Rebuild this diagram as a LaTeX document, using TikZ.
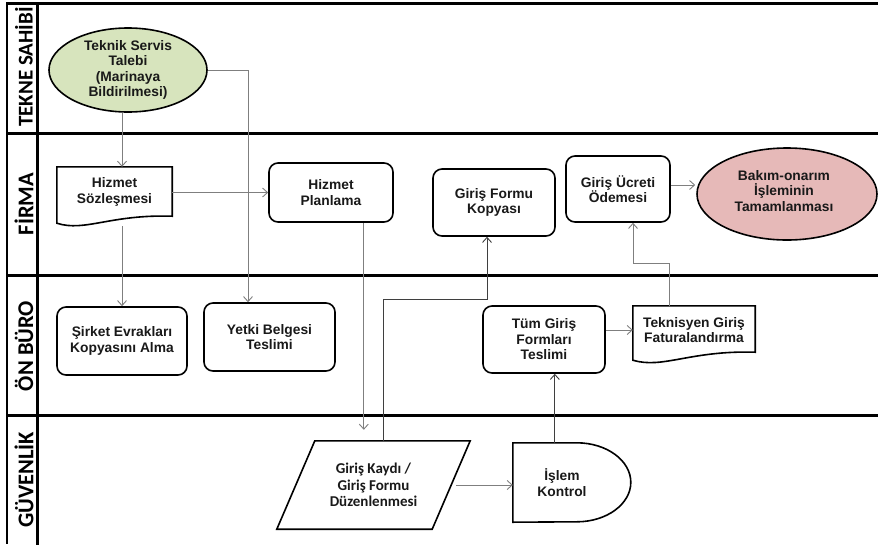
\documentclass[tikz,border=0pt]{standalone}
\usepackage{fontspec}
\setmainfont{Liberation Sans}
\newfontfamily\calfont{Carlito}
\usetikzlibrary{arrows.meta,calc,shapes.geometric}

\definecolor{talepgreen}{HTML}{D7E4BD}
\definecolor{bitispink}{HTML}{E6B9B8}
\definecolor{conngray}{HTML}{7F7F7F}
\definecolor{conndark}{HTML}{3F3F3F}

\tikzset{
  lane/.style={line width=3pt, black, line cap=rect},
  lanethin/.style={line width=1.8pt, black},
  lanelabel/.style={rotate=90, inner sep=0pt,
    font=\calfont\bfseries\fontsize{22.5}{24}\selectfont},
  txt/.style={align=center, inner sep=0pt, text=black!90,
    font=\bfseries\fontsize{13.8}{15.5}\selectfont},
  caltxt/.style={align=center, inner sep=0pt, text=black!90,
    font=\calfont\bfseries\fontsize{15}{16.5}\selectfont},
  shapeline/.style={draw=black, line width=1.6pt},
  procbox/.style={txt, shapeline, fill=white, rounded corners=9pt},
  terminal/.style={ellipse, shapeline, inner sep=0pt},
  arr/.style={draw=conngray, line width=0.9pt,
    -{Straight Barb[length=5pt,width=9pt]}},
  arrd/.style={arr, draw=conndark},
}

\begin{document}
\begin{tikzpicture}[x=1pt, y=-1pt]
\useasboundingbox (0,0) rectangle (878,544);

% swimlane frame
\draw[lanethin] (7,3) -- (7,544);
\draw[lane] (37,3) -- (37,544);
\foreach \yy in {3,133,275,415}
  \draw[lane] (7,\yy) -- (880,\yy);

% lane titles
\node[lanelabel, font=\calfont\bfseries\fontsize{21}{24}\selectfont] (l1) at (24,67) {TEKNE SAHİBİ};
\node[lanelabel] (l2) at (24,204) {FİRMA};
\node[lanelabel] (l3) at (24,346) {ÖN BÜRO};
\node[lanelabel] (l4) at (24,480) {GÜVENLİK};

% TEKNE SAHIBI
\node[terminal, fill=talepgreen, minimum width=158pt, minimum height=84pt] (talep) at (128,70) {};
\node[txt] (talept) at (talep) {Teknik Servis\\Talebi\\(Marinaya\\Bildirilmesi)};

% FIRMA
\node[txt, minimum width=115pt, minimum height=50pt] (soz) at (114.5,192) {Hizmet\\Sözleşmesi};
\draw[shapeline] (soz.north west) -- (soz.north east) -- ($(soz.south east)+(0,-1)$)
  .. controls ($(soz.south east)+(-62,-3)$) and ($(soz.south west)+(28,15)$) ..
  ($(soz.south west)+(0,6)$) -- cycle;

\node[procbox, minimum width=124pt, minimum height=59pt] (plan) at (331,192.5) {Hizmet\\Planlama};
\node[procbox, minimum width=122pt, minimum height=67pt] (kopya) at (494,202.5) {Giriş Formu\\Kopyası};
\node[procbox, minimum width=104pt, minimum height=66pt] (ucret) at (618,189) {Giriş Ücreti\\Ödemesi};

\node[terminal, fill=bitispink, minimum width=180pt, minimum height=92pt] (bakim) at (787,194) {};
\node[txt] (bakimt) at ($(bakim)+(-3,-3)$) {Bakım-onarım\\İşleminin\\Tamamlanması};

% ON BURO
\node[procbox, minimum width=130pt, minimum height=68pt] (sirket) at (122,341) {Şirket Evrakları\\Kopyasını Alma};
\node[procbox, minimum width=131pt, minimum height=68pt] (yetki) at (269.5,337) {Yetki Belgesi\\Teslimi};
\node[procbox, minimum width=122pt, minimum height=67pt] (tum) at (544,339.5) {Tüm Giriş\\Formları\\Teslimi};

\node[txt, minimum width=122pt, minimum height=48pt] (fatura) at (694,330) {Teknisyen Giriş\\Faturalandırma};
\draw[shapeline] (fatura.north west) -- (fatura.north east) -- ($(fatura.south east)+(0,-2)$)
  .. controls ($(fatura.south east)+(-65,-4)$) and ($(fatura.south west)+(30,15)$) ..
  ($(fatura.south west)+(0,6)$) -- cycle;

% GUVENLIK
\node[caltxt, minimum width=155pt, minimum height=88pt] (kayit) at (373.5,485) {Giriş Kaydı /\\Giriş Formu\\Düzenlenmesi};
\draw[shapeline] ($(kayit.north west)+(19,0)$) -- ($(kayit.north east)+(19,0)$)
  -- ($(kayit.south east)+(-19,0)$) -- ($(kayit.south west)+(-19,0)$) -- cycle;

\node[txt, minimum width=98pt, minimum height=79pt] (kontrol) at (562,482.5) {İşlem\\Kontrol};
\draw[shapeline] (kontrol.north west) -- ++(64,0)
  .. controls +(29.8,0) and +(0,-21.8) .. ++(54,39.5)
  .. controls +(0,21.8) and +(29.8,0) .. ++(-54,39.5)
  -- (kontrol.south west) -- cycle;

% connectors
\draw[arr] (talep.south -| sirket.north) -- (soz.north -| sirket.north);
\draw[arr] (talep.east) -| ($(yetki.north)+(-21.5,0)$);
\draw[arr] (plan.west -| soz.east) -- (plan.west);
\draw[arr] ($(soz.south -| sirket.north)+(0,9)$) -- (sirket.north);
\coordinate (pdown) at ($(plan.south east)+(-30,0)$);
\draw[arr, shorten >=11pt] (pdown) -- (pdown |- kayit.north);
\draw[arrd] ($(kayit.north)+(9.5,0)$) |- ($(kopya.south)+(-7,63)$) -- ($(kopya.south)+(-7,0)$);
\draw[arr, shorten <=5pt] (kayit.east) -- (kayit.east -| kontrol.west);
\coordinate (kup) at ($(kontrol.north west)+(42,0)$);
\draw[arrd] (kup) -- (kup |- tum.south);
\draw[arr] (fatura.west -| tum.east) -- (fatura.west);
\draw[arr] ($(fatura.north)+(-25,0)$) |- ($(ucret.south)+(15,41)$) -- ($(ucret.south)+(15,0)$);
\coordinate (uout) at ($(ucret.east)+(0,-4)$);
\draw[arr] (uout) -- ($(uout -| bakim.west)+(-1,0)$);

\end{tikzpicture}
\end{document}
